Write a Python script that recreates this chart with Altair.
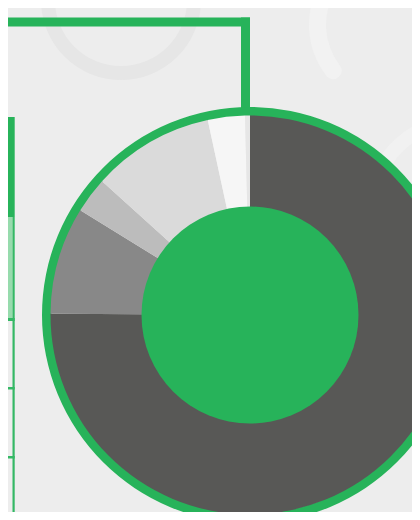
import altair as alt
import pandas as pd
import math

# ---- data: donut slice shares (percent), clockwise from 12 o'clock ----
slice_names = ["A", "B", "C", "D", "E", "F"]
slice_values = [75.1, 8.7, 2.9, 9.9, 3.0, 0.4]
slice_colors = ["#585856", "#888888", "#bcbcbc", "#dadada", "#f6f6f6", "#e6e6e6"]

# ---- layout (reference pixel space) ----
OFF = 8  # page margin
CX, CY = 250 - OFF, 315 - OFF
GREEN = "#27b35a"
LIGHT_GREEN = "#97dbad"
LINE_GREEN = "#34b865"
BG = "#ededed"

W, H = 404, 504
xs = alt.Scale(domain=[OFF, OFF + W], nice=False, zero=False)
ys = alt.Scale(domain=[OFF + H, OFF], nice=False, zero=False)

rect_x = [0, 241, 0, 0, 12.5, 0, 0, 0]
rect_x2 = [250, 250, 14.7, 12.5, 14.7, 14.7, 14.7, 14.7]
rect_y = [17.5, 17.5, 117, 217, 217, 318, 387, 456]
rect_y2 = [26.5, 110, 217, 318, 530, 321, 389.5, 458.5]
rect_c = [GREEN, GREEN, GREEN, LIGHT_GREEN, LINE_GREEN, LINE_GREEN, LINE_GREEN, LINE_GREEN]

rects = pd.DataFrame({"x": rect_x, "x2": rect_x2, "y": rect_y, "y2": rect_y2, "c": rect_c})

rect_layer = alt.Chart(rects).mark_rect(strokeWidth=0).encode(
    x=alt.X("x:Q", scale=xs, axis=None),
    x2="x2:Q",
    y=alt.Y("y:Q", scale=ys, axis=None),
    y2="y2:Q",
    color=alt.Color("c:N", scale=None),
)

one = pd.DataFrame({"v": [1]})

# faint decorative rings in the background
deco1 = alt.Chart(one).mark_arc(
    radius=80, radius2=66, theta=0, theta2=2 * math.pi, color="#e6e6e6"
).encode(x=alt.value(121 - OFF), y=alt.value(0 - OFF))

deco2 = alt.Chart(one).mark_arc(
    radius=83, radius2=66, theta=3.94, theta2=5.4, color="#f2f2f2", cornerRadius=8
).encode(x=alt.value(392 - OFF), y=alt.value(25 - OFF))

deco3 = alt.Chart(one).mark_arc(
    radius=96, radius2=82, theta=4.9, theta2=6.2, color="#f1f1f1", cornerRadius=7
).encode(x=alt.value(460 - OFF), y=alt.value(210 - OFF))

ring = alt.Chart(one).mark_arc(
    radius=208, radius2=198.5, theta=0, theta2=2 * math.pi, color=GREEN
).encode(x=alt.value(CX), y=alt.value(CY))

slices = pd.DataFrame({"name": slice_names, "value": slice_values, "idx": list(range(len(slice_names)))})
donut = alt.Chart(slices).mark_arc(radius=199.5, radius2=107, strokeWidth=0).encode(
    theta=alt.Theta("value:Q", stack=True),
    order=alt.Order("idx:Q"),
    color=alt.Color("name:N", scale=alt.Scale(domain=slice_names, range=slice_colors), legend=None),
    x=alt.value(CX),
    y=alt.value(CY),
)

center = alt.Chart(one).mark_arc(
    radius=108.5, theta=0, theta2=2 * math.pi, color=GREEN
).encode(x=alt.value(CX), y=alt.value(CY))

chart = alt.layer(deco1, deco2, deco3, rect_layer, ring, donut, center).properties(
    width=W, height=H,
    autosize=alt.AutoSizeParams(type="none"),
    padding=0,
    background=BG,
).configure_view(stroke=None)

chart.save("out.html", embed_options={"renderer": "svg", "actions": False})
